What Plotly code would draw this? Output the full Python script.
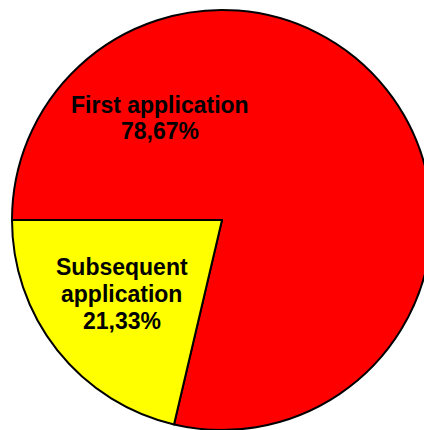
import plotly.graph_objects as go

# data
labels = ['First application', 'Subsequent application']
values = [78.67, 21.33]
colors = ['#FF0000', '#FFFF00']
label_lines = [
    ['First application', '78,67%'],
    ['Subsequent', 'application', '21,33%'],
]

# the pie is a bit wider than the window in the original, its right edge is cut
W, H = 434, 430
L, T = 12, 10
PLOT = 420  # square plot area


def to_paper(px, py):
    # pixel position on the page -> paper coords
    return (px - L) / PLOT, 1 - (py - T) / PLOT


fig = go.Figure(
    go.Pie(
        labels=labels,
        values=values,
        sort=False,
        direction='clockwise',
        rotation=270,
        textinfo='none',
        hoverinfo='label+percent',
        marker=dict(colors=colors, line=dict(color='black', width=2)),
        showlegend=False,
    )
)

# label blocks: centre x and y of each line, page pixels
label_spots = [
    (160, [105, 131]),
    (121.5, [267, 294, 321]),
]
for lines, (cx, ys) in zip(label_lines, label_spots):
    for line, cy in zip(lines, ys):
        x, y = to_paper(cx, cy)
        fig.add_annotation(
            text='<b>' + line + '</b>',
            x=x, y=y, xref='paper', yref='paper',
            xanchor='center', yanchor='middle',
            showarrow=False,
            font=dict(family='Liberation Sans, Arial', size=23, color='black'),
        )

fig.update_layout(
    width=W,
    height=H,
    margin=dict(l=L, r=W - L - PLOT, t=T, b=H - T - PLOT),
    paper_bgcolor='white',
    plot_bgcolor='white',
)

# no page margin, and clip the overflow instead of scrolling
fig.write_html(
    'out.html',
    config={'displayModeBar': False},
    post_script="document.body.style.margin='0';document.body.style.overflow='hidden';",
)
